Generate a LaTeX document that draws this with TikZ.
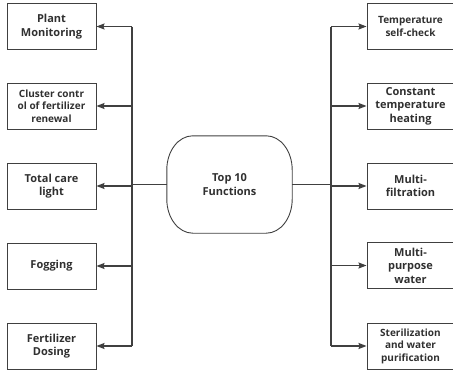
\documentclass[tikz,border=0pt]{standalone}
\usepackage{fontspec}
\setmainfont{Open Sans}
\usetikzlibrary{arrows.meta}
\definecolor{linec}{HTML}{404040}
\definecolor{txtc}{HTML}{303030}
\begin{document}
\begin{tikzpicture}[x=1pt,y=1pt,
  fbox/.style={draw=linec, line width=0.9pt, minimum width=89pt, minimum height=46pt, inner sep=0pt, align=center, text=txtc},
  rbox/.style={fbox, minimum width=87pt},
  big/.style={font=\bfseries\fontsize{11}{13.5}\selectfont},
  small/.style={font=\bfseries\fontsize{10}{12.5}\selectfont},
  conn/.style={draw=linec, line width=1.3pt},
  arr/.style={conn, -{Stealth[length=8pt,width=6pt,inset=1pt]}}]
\useasboundingbox (0,0) rectangle (453,-370);
% central node
\node[minimum width=125pt, minimum height=97pt, inner sep=0pt, align=center, text=txtc, big] (c) at (229.5,-184.5) {Top 10\\Functions};
\draw[draw=linec, line width=0.9pt]
  ([xshift=26pt]c.north west) -- ([xshift=-26pt]c.north east)
  arc[start angle=90, end angle=0, x radius=26pt, y radius=34pt]
  -- ([yshift=34pt]c.south east)
  arc[start angle=0, end angle=-90, x radius=26pt, y radius=34pt]
  -- ([xshift=26pt]c.south west)
  arc[start angle=270, end angle=180, x radius=26pt, y radius=34pt]
  -- ([yshift=-34pt]c.north west)
  arc[start angle=180, end angle=90, x radius=26pt, y radius=34pt] -- cycle;
% left boxes
\node[fbox, big] (l1) at (51.5,-26.5) {Plant\\Monitoring};
\node[fbox, small] (l2) at (51.5,-106) {Cluster contr\\ol of fertilizer\\renewal};
\node[fbox, big] (l3) at (51.5,-186) {Total care\\light};
\node[fbox, big] (l4) at (51.5,-266) {Fogging};
\node[fbox, big] (l5) at (51.5,-346) {Fertilizer\\Dosing};
% right boxes
\node[rbox, small] (r1) at (410.5,-26.5) {Temperature\\self-check};
\node[rbox, big] (r2) at (410.5,-106) {Constant\\temperature\\heating};
\node[rbox, big] (r3) at (410.5,-186) {Multi-\\filtration};
\node[rbox, big] (r4) at (410.5,-265.5) {Multi-\\purpose\\water};
\node[rbox, small] (r5) at (410.5,-346) {Sterilization\\and water\\purification};
% buses
\coordinate (lbus) at (132,0);
\coordinate (rbus) at (331,0);
\draw[conn] (l1.east -| lbus) -- (l5.east -| lbus);
\draw[conn] (r1.west -| rbus) -- (r5.west -| rbus);
\draw[conn] (c.west) -- (c.west -| lbus);
\draw[conn] (c.east) -- (c.east -| rbus);
\foreach \n in {l1,l2,l3,l4,l5} { \draw[arr] (\n.east -| lbus) -- (\n.east); }
\foreach \n in {r1,r2,r3,r4,r5} { \draw[arr] (\n.west -| rbus) -- (\n.west); }
\end{tikzpicture}
\end{document}
